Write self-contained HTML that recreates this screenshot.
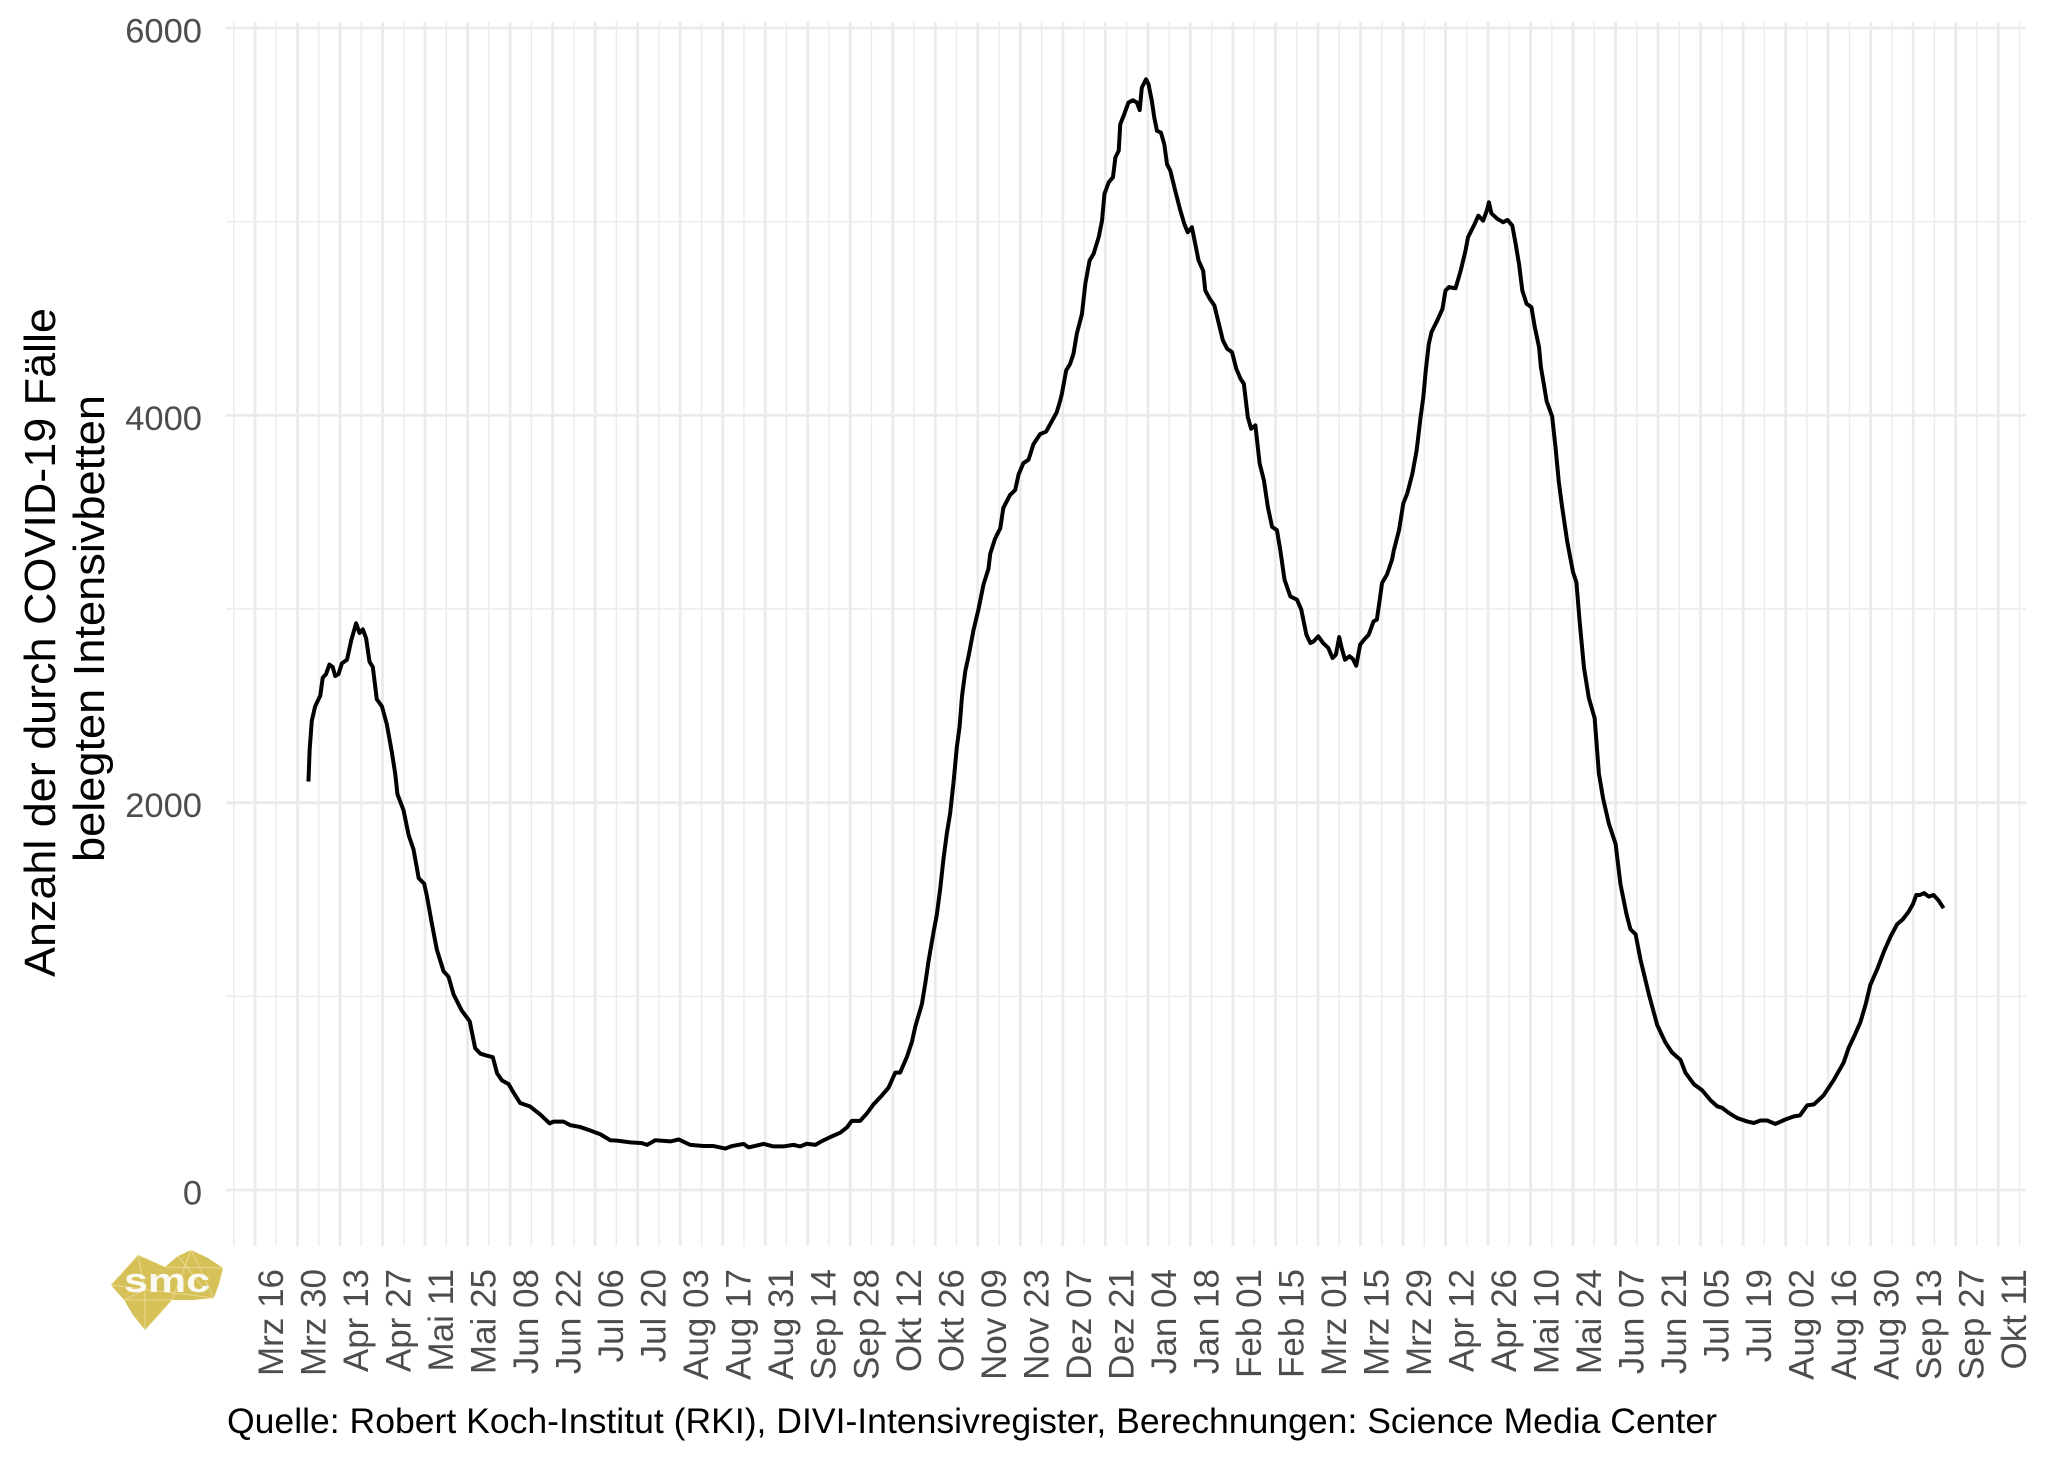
<!DOCTYPE html>
<html>
<head>
<meta charset="utf-8">
<style>
html,body{margin:0;padding:0;background:#fff;}
svg{display:block;}
text{font-family:"Liberation Sans",Arial,sans-serif;}
</style>
</head>
<body>
<svg xmlns="http://www.w3.org/2000/svg" width="2048" height="1462" viewBox="0 0 2048 1462">
<rect width="2048" height="1462" fill="#fff"/>

<!-- horizontal gridlines -->
<g stroke="#ebebeb" fill="none">
  <path stroke-width="1.4" d="M226 996.3H2026M226 609H2026M226 221.7H2026"/>
  <path stroke-width="2.8" d="M226 1190H2026M226 802.7H2026M226 415.3H2026M226 28H2026"/>
</g>

<!-- vertical gridlines (x in days since 2020-03-16) -->
<g transform="translate(255,0) scale(3.037,1)" fill="none" stroke="#ebebeb">
  <path vector-effect="non-scaling-stroke" stroke-width="1.4" d="M-7 22V1246M7 22V1246M21 22V1246M35 22V1246M49 22V1246M63 22V1246M77 22V1246M91 22V1246M105 22V1246M119 22V1246M133 22V1246M147 22V1246M161 22V1246M175 22V1246M189 22V1246M203 22V1246M217 22V1246M231 22V1246M245 22V1246M259 22V1246M273 22V1246M287 22V1246M301 22V1246M315 22V1246M329 22V1246M343 22V1246M357 22V1246M371 22V1246M385 22V1246M399 22V1246M413 22V1246M427 22V1246M441 22V1246M455 22V1246M469 22V1246M483 22V1246M497 22V1246M511 22V1246M525 22V1246M539 22V1246M553 22V1246M567 22V1246M581 22V1246"/>
  <path vector-effect="non-scaling-stroke" stroke-width="2.8" d="M0 22V1246M14 22V1246M28 22V1246M42 22V1246M56 22V1246M70 22V1246M84 22V1246M98 22V1246M112 22V1246M126 22V1246M140 22V1246M154 22V1246M168 22V1246M182 22V1246M196 22V1246M210 22V1246M224 22V1246M238 22V1246M252 22V1246M266 22V1246M280 22V1246M294 22V1246M308 22V1246M322 22V1246M336 22V1246M350 22V1246M364 22V1246M378 22V1246M392 22V1246M406 22V1246M420 22V1246M434 22V1246M448 22V1246M462 22V1246M476 22V1246M490 22V1246M504 22V1246M518 22V1246M532 22V1246M546 22V1246M560 22V1246M574 22V1246"/>
</g>

<!-- data line: x = days since 2020-03-16, y = value -->
<polyline transform="matrix(3.037 0 0 -0.19367 255 1190)" vector-effect="non-scaling-stroke" fill="none" stroke="#000" stroke-width="4" stroke-linejoin="round" stroke-linecap="butt"
points="17.6,2109 18,2275 18.7,2423 19.8,2497 21.5,2553 22.3,2645 23.4,2664 24.5,2713 25.6,2700 26.4,2654 27.5,2664 28.6,2719 30.3,2738 31.7,2839 33.3,2926 34.4,2876 35.5,2895 36.6,2848 37.7,2728 38.8,2700 40.1,2534 41.8,2497 43.4,2405 45.1,2257 46.2,2146 46.9,2044 48.9,1961 50.6,1832 52.2,1758 53.9,1610 55.7,1582 56.6,1518 58.3,1370 59.9,1240 62.1,1129 63.7,1102 65.4,1009 68.1,926 70.7,871 72.5,732 74.2,704 76.1,695 78.3,686 79.7,603 81.3,566 83.5,547 85.2,501 87.3,449 90.6,431 93.9,390 97,344 98.3,353 101.6,353 103.8,335 107.1,325 110.4,307 113.7,288 117,257 119.2,255 123.6,246 127.4,242 129.1,233 131.8,257 136.8,251 139.5,261 143.3,233 147.7,227 151,227 154.9,214 157.1,227 160.9,238 162.5,220 167.5,238 170.7,225 174,225 177.3,233 179.5,225 181.7,239 184.5,233 186.6,252 189.4,273 192.7,296 194.9,323 196.5,357 199.3,357 201.5,396 203.7,443 206.4,488 208.6,528 210.8,606 212.4,606 214.6,685 216.3,764 217.4,843 219.6,961 220.7,1066 221.8,1184 223.4,1329 224.5,1421 225.6,1552 226.7,1710 227.8,1841 228.9,1946 230,2104 231.1,2287 232,2392 232.8,2550 233.9,2681 235,2760 236.6,2892 238.2,2997 239.9,3128 241.5,3207 242.1,3286 243.7,3364 245.4,3417 246.4,3522 248.6,3588 250.3,3614 251.4,3693 253,3753 254.7,3771 256.3,3850 258.5,3903 260.5,3916 262.3,3968 264,4016 265.1,4074 265.7,4112 267.1,4232 268.4,4266 269.5,4318 270.6,4421 272.3,4524 273.4,4679 274.8,4799 276.1,4833 277.8,4919 278.9,5005 279.7,5143 281.1,5203 282.5,5229 283.3,5332 284.4,5366 284.9,5503 286,5546 287.6,5615 289.1,5627 290.4,5615 291.3,5576 292,5692 293.4,5735 294.2,5710 295.3,5624 296.1,5538 297,5469 298.3,5460 299.4,5400 300.3,5297 301.4,5263 303,5160 304.7,5057 306,4988 307.1,4945 308.5,4971 309.6,4885 310.7,4799 312.2,4747 312.9,4644 314.4,4601 315.9,4567 317.1,4490 318.7,4387 320.1,4344 321.7,4326 323.1,4241 324.5,4189 325.6,4163 326.9,3991 328,3931 329.4,3948 330.8,3751 332.2,3665 333.5,3527 334.9,3424 336.5,3407 337.6,3304 339,3151 340.9,3065 343.1,3048 344.5,2997 346.2,2867 347.5,2824 348.6,2833 350.1,2859 351.7,2824 353.4,2799 354.8,2747 355.9,2764 357,2855 357.8,2799 358.9,2738 360.4,2756 361.5,2742 362.6,2707 363.9,2816 365.2,2842 366.7,2867 368.3,2936 369.4,2945 370.5,3065 371.1,3134 372.7,3177 374.4,3255 375,3304 376.7,3407 378.1,3545 379.4,3596 381.1,3699 382.5,3820 383.8,3991 384.7,4094 385.5,4232 386.5,4369 387.4,4430 389.3,4490 391,4550 392,4644 393.1,4662 395.3,4656 397,4747 398.6,4851 399.4,4919 400.5,4954 401.6,4988 402.8,5031 404.4,5005 405.6,5057 406.3,5100 407.1,5043 409.1,5014 411,4997 412.4,5009 414,4979 415.1,4885 416.2,4782 417.3,4644 418.7,4576 420.3,4558 421.4,4455 422.8,4352 423.4,4249 424.2,4177 425.3,4073 427.1,3995 428.2,3839 429.3,3657 430.4,3527 432.1,3346 434,3190 435.1,3138 436.2,2930 437.6,2696 439.2,2540 441.1,2437 442.5,2151 443.9,2021 445.8,1891 448,1787 449.6,1580 451.6,1424 452.9,1346 454.6,1320 456.2,1190 459,1008 461.7,852 464.4,762 466.6,710 469.4,671 471,606 473.8,546 476.5,515 479.3,463 481.5,432 483.1,424 485.3,398 488,372 491.3,354 493.5,346 495.7,359 497.9,359 500.6,341 503.9,364 506.7,380 508.7,385 511.1,437 513.3,442 516.5,489 519.8,567 523.1,658 524.8,736 526.4,788 528.6,866 530.3,956 531.9,1060 534.1,1138 536.3,1229 538.5,1307 540.7,1372 542.6,1398 544.5,1437 545.9,1476 547,1523 548.1,1523 549.6,1533 551.1,1515 552.7,1523 554.4,1494 556,1455"/>

<!-- y tick labels -->
<g font-size="34.5" fill="#4d4d4d" text-anchor="end">
  <text x="202" y="42.5">6000</text>
  <text x="202" y="429.8">4000</text>
  <text x="202" y="817.2">2000</text>
  <text x="202" y="1204.5">0</text>
</g>

<!-- y axis title -->
<g font-size="44" fill="#000">
  <text transform="translate(55,977) rotate(-90)" textLength="669" lengthAdjust="spacingAndGlyphs">Anzahl der durch COVID-19 Fälle</text>
  <text transform="translate(104,862) rotate(-90)" textLength="467" lengthAdjust="spacingAndGlyphs">belegten Intensivbetten</text>
</g>

<!-- x tick labels -->
<g font-size="35" fill="#4d4d4d" text-anchor="end">
  <text transform="translate(283.0,1269) rotate(-90)">Mrz 16</text>
  <text transform="translate(325.5,1269) rotate(-90)">Mrz 30</text>
  <text transform="translate(368.0,1269) rotate(-90)">Apr 13</text>
  <text transform="translate(410.6,1269) rotate(-90)">Apr 27</text>
  <text transform="translate(453.1,1269) rotate(-90)">Mai 11</text>
  <text transform="translate(495.6,1269) rotate(-90)">Mai 25</text>
  <text transform="translate(538.1,1269) rotate(-90)">Jun 08</text>
  <text transform="translate(580.6,1269) rotate(-90)">Jun 22</text>
  <text transform="translate(623.1,1269) rotate(-90)">Jul 06</text>
  <text transform="translate(665.7,1269) rotate(-90)">Jul 20</text>
  <text transform="translate(708.2,1269) rotate(-90)">Aug 03</text>
  <text transform="translate(750.7,1269) rotate(-90)">Aug 17</text>
  <text transform="translate(793.2,1269) rotate(-90)">Aug 31</text>
  <text transform="translate(835.7,1269) rotate(-90)">Sep 14</text>
  <text transform="translate(878.3,1269) rotate(-90)">Sep 28</text>
  <text transform="translate(920.8,1269) rotate(-90)">Okt 12</text>
  <text transform="translate(963.3,1269) rotate(-90)">Okt 26</text>
  <text transform="translate(1005.8,1269) rotate(-90)">Nov 09</text>
  <text transform="translate(1048.3,1269) rotate(-90)">Nov 23</text>
  <text transform="translate(1090.8,1269) rotate(-90)">Dez 07</text>
  <text transform="translate(1133.4,1269) rotate(-90)">Dez 21</text>
  <text transform="translate(1175.9,1269) rotate(-90)">Jan 04</text>
  <text transform="translate(1218.4,1269) rotate(-90)">Jan 18</text>
  <text transform="translate(1260.9,1269) rotate(-90)">Feb 01</text>
  <text transform="translate(1303.4,1269) rotate(-90)">Feb 15</text>
  <text transform="translate(1346.0,1269) rotate(-90)">Mrz 01</text>
  <text transform="translate(1388.5,1269) rotate(-90)">Mrz 15</text>
  <text transform="translate(1431.0,1269) rotate(-90)">Mrz 29</text>
  <text transform="translate(1473.5,1269) rotate(-90)">Apr 12</text>
  <text transform="translate(1516.0,1269) rotate(-90)">Apr 26</text>
  <text transform="translate(1558.5,1269) rotate(-90)">Mai 10</text>
  <text transform="translate(1601.1,1269) rotate(-90)">Mai 24</text>
  <text transform="translate(1643.6,1269) rotate(-90)">Jun 07</text>
  <text transform="translate(1686.1,1269) rotate(-90)">Jun 21</text>
  <text transform="translate(1728.6,1269) rotate(-90)">Jul 05</text>
  <text transform="translate(1771.1,1269) rotate(-90)">Jul 19</text>
  <text transform="translate(1813.6,1269) rotate(-90)">Aug 02</text>
  <text transform="translate(1856.2,1269) rotate(-90)">Aug 16</text>
  <text transform="translate(1898.7,1269) rotate(-90)">Aug 30</text>
  <text transform="translate(1941.2,1269) rotate(-90)">Sep 13</text>
  <text transform="translate(1983.7,1269) rotate(-90)">Sep 27</text>
  <text transform="translate(2026.2,1269) rotate(-90)">Okt 11</text>
</g>

<!-- caption -->
<text x="227" y="1433" font-size="35.5" fill="#000" textLength="1490" lengthAdjust="spacingAndGlyphs">Quelle: Robert Koch-Institut (RKI), DIVI-Intensivregister, Berechnungen: Science Media Center</text>

<!-- smc logo -->
<g>
  <polygon fill="#d6c159" points="111,1285 125,1270 138,1255 152,1261 165,1267 178,1256 191,1250 208,1258 223,1268 219,1284 214,1298 193,1300 172,1300 158,1316 145,1330 133,1315 124,1300"/>
  <g stroke="#efe3a6" stroke-width="0.8" fill="none" opacity="0.9">
    <path d="M111 1285L138 1255L165 1267M138 1255L145 1290L124 1300M191 1250L172 1300M191 1250L214 1298M165 1267L223 1268M145 1330L145 1290M172 1300L145 1330M124 1300L172 1300M111 1285L214 1298M178 1256L205 1290"/>
  </g>
  <text x="167" y="1292" font-size="34" font-weight="bold" fill="#ffffff" text-anchor="middle" textLength="86" lengthAdjust="spacingAndGlyphs" opacity="0.92">smc</text>
</g>
</svg>
</body>
</html>
